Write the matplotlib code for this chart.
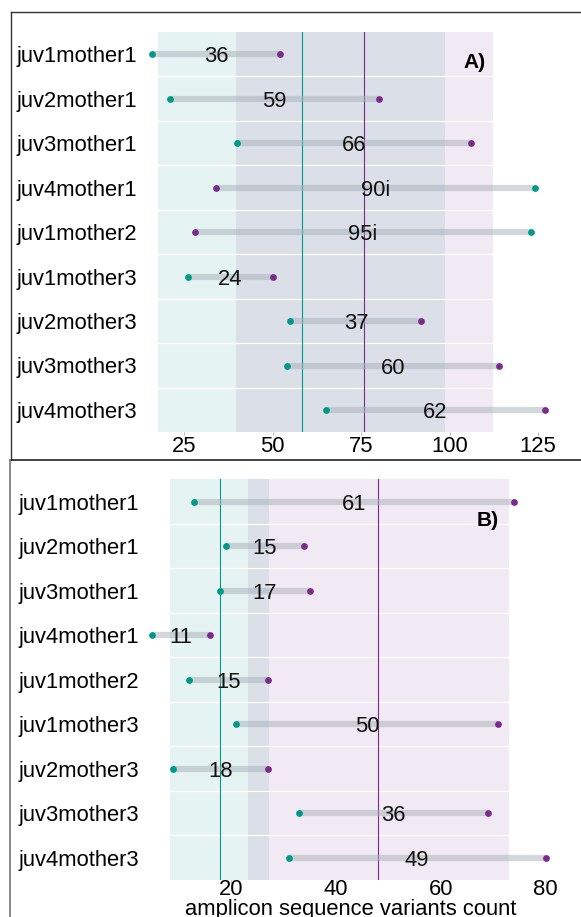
import numpy as np
import matplotlib.pyplot as plt
from matplotlib.lines import Line2D

plt.rcParams['font.family'] = ['Liberation Sans', 'DejaVu Sans']

# pairs shown on both panels
pairs = ["juv1mother1", "juv2mother1", "juv3mother1", "juv4mother1", "juv1mother2",
         "juv1mother3", "juv2mother3", "juv3mother3", "juv4mother3"]

# panel A
juv_a = [16, 21, 40, 124, 123, 26, 55, 54, 65]
mother_a = [52, 80, 106, 34, 28, 50, 92, 114, 127]
ticks_a = [25, 50, 75, 100, 125]

# panel B
juv_b = [13, 19, 18, 5, 12, 21, 9, 33, 31]
mother_b = [74, 34, 35, 16, 27, 71, 27, 69, 80]
ticks_b = [20, 40, 60, 80]

teal = "#00998a"
purple = "#7b2c8b"
fs = 15.8

W, H = 581, 917
fig = plt.figure(figsize=(W / 100, H / 100), dpi=100)


def rect(x0, y0, x1, y1):
    # pixel box (left, top, right, bottom) -> figure fraction
    return [x0 / W, 1 - y1 / H, (x1 - x0) / W, (y1 - y0) / H]


def panel(ax, juv, mother, xlim, ticks, tag, tag_xy, ypad, xpad):
    juv = np.array(juv, float)
    mother = np.array(mother, float)
    rows = np.arange(len(pairs))

    # mean +/- sd bands
    for vals, c in ((juv, teal), (mother, purple)):
        m, s = vals.mean(), vals.std(ddof=1)
        ax.axvspan(m - s, m + s, color=c, alpha=0.1, lw=0, zorder=0)
    for r in rows[:-1]:
        ax.axhline(r + 0.5, color="white", lw=0.9, zorder=1)
    ax.axvline(juv.mean(), color=teal, lw=0.8, zorder=2)
    ax.axvline(mother.mean(), color=purple, lw=0.8, zorder=2)

    ax.hlines(rows, juv, mother, color="#a9b0b9", alpha=0.5, lw=4.5, zorder=3)
    ax.scatter(juv, rows, s=24, color=teal, lw=0, zorder=4, clip_on=False)
    ax.scatter(mother, rows, s=24, color=purple, lw=0, zorder=4, clip_on=False)

    for r, j, m in zip(rows, juv, mother):
        d = int(round(abs(m - j)))
        lab = f"{d}i" if j > m else f"{d}"
        ax.text((j + m) / 2, r, lab, ha="center", va="center_baseline",
                fontsize=fs, color="#111111", zorder=5)

    ax.text(tag_xy[0], tag_xy[1], tag, ha="center", va="center",
            fontsize=15, fontweight="bold", zorder=5)

    ax.set_xlim(*xlim)
    ax.set_ylim(len(pairs) - 0.5, -0.5)
    ax.set_xticks(ticks)
    ax.set_yticks(rows)
    ax.set_yticklabels(pairs)
    ax.tick_params(axis="y", length=0, pad=ypad, labelsize=fs)
    ax.tick_params(axis="x", length=2.5, width=0.6, color="#aaaaaa",
                   pad=xpad, labelsize=fs)
    for sp in ax.spines.values():
        sp.set_visible(False)
    ax.patch.set_alpha(0)


ax1 = fig.add_axes(rect(150, 31.75, 560, 432.25))
panel(ax1, juv_a, mother_a, (15.34, 131.16), ticks_a, "A)", (107.1, 0.2), 9.4, 0)

ax2 = fig.add_axes(rect(150, 479.45, 560, 879.95))
panel(ax2, juv_b, mother_b, (4.56, 82.74), ticks_b, "B)", (68.9, 0.43), 7.9, -3)

fig.text(351 / W, 1 - 915 / H, "amplicon sequence variants count",
         ha="center", va="baseline", fontsize=fs)

# panel frames
tr = fig.transFigure
fig.add_artist(Line2D([10.5 / W, 1], [1 - 12 / H] * 2, color="#333333", lw=1, transform=tr))
fig.add_artist(Line2D([10.5 / W] * 2, [1 - 12 / H, 1 - 460 / H], color="#333333", lw=1, transform=tr))
fig.add_artist(Line2D([10.5 / W, 1], [1 - 460 / H] * 2, color="#111111", lw=1.1, transform=tr))
fig.add_artist(Line2D([10 / W] * 2, [1 - 460 / H, 0], color="#888888", lw=1.4, transform=tr))

fig.savefig("out.png", dpi=100)
